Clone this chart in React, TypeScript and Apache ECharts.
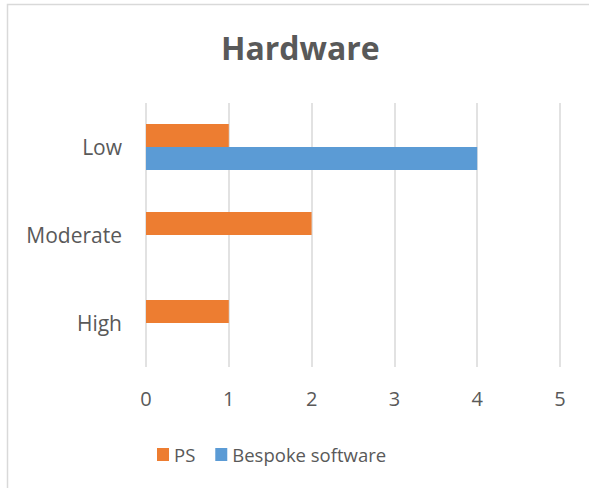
import React, { useEffect, useRef } from "react";
import * as echarts from "echarts";

const categories = ["High", "Moderate", "Low"];
const psValues = [1, 2, 1];
const bespokeValues = [0, 0, 4];
const xTicks = [0, 1, 2, 3, 4, 5];

export default function App() {
  const ref = useRef<HTMLDivElement>(null);
  useEffect(() => {
    if (!ref.current) return;
    const chart = echarts.init(ref.current, null, { renderer: "svg" });
    const font = "'Open Sans', 'Noto Sans', sans-serif";
    chart.setOption({
      animation: false,
      backgroundColor: "#ffffff",
      textStyle: { fontFamily: font },
      title: {
        text: "Hardware",
        left: 216,
        top: 26,
        textStyle: { fontFamily: font, fontSize: 32, fontWeight: "bold", color: "#595959" },
      },
      graphic: [
        {
          type: "rect",
          shape: { x: 7.5, y: 4.5, width: 600, height: 500 },
          style: { fill: "none", stroke: "#d9d9d9", lineWidth: 1.5 },
          silent: true,
        },
      ],
      legend: {
        data: ["PS", "Bespoke software"],
        left: 152,
        top: 440,
        itemWidth: 12,
        itemHeight: 13,
        itemGap: 20,
        icon: "rect",
        textStyle: { fontFamily: font, fontSize: 18.5, color: "#595959" },
      },
      grid: { left: 146, right: 29, top: 103, bottom: 121, containLabel: false },
      xAxis: {
        type: "value",
        min: xTicks[0],
        max: xTicks[xTicks.length - 1],
        interval: 1,
        axisLine: { show: false },
        axisTick: { show: false },
        splitLine: { show: true, lineStyle: { color: "#d9d9d9", width: 1.5 } },
        axisLabel: { fontFamily: font, fontSize: 20, color: "#595959", margin: 21 },
      },
      yAxis: {
        type: "category",
        data: categories,
        axisLine: { show: false },
        axisTick: { show: false },
        axisLabel: { fontFamily: font, fontSize: 21, color: "#595959", margin: 24 },
      },
      series: [
        {
          name: "PS",
          type: "bar",
          data: psValues,
          barWidth: 23,
          barGap: "0%",
          itemStyle: { color: "#ED7D31" },
        },
        {
          name: "Bespoke software",
          type: "bar",
          data: bespokeValues,
          barWidth: 23,
          barGap: "0%",
          itemStyle: { color: "#5B9BD5" },
        },
      ],
    });
    return () => chart.dispose();
  }, []);
  return (
    <div
      ref={ref}
      style={{ position: "fixed", left: 0, top: 0, width: 589, height: 488 }}
    />
  );
}
